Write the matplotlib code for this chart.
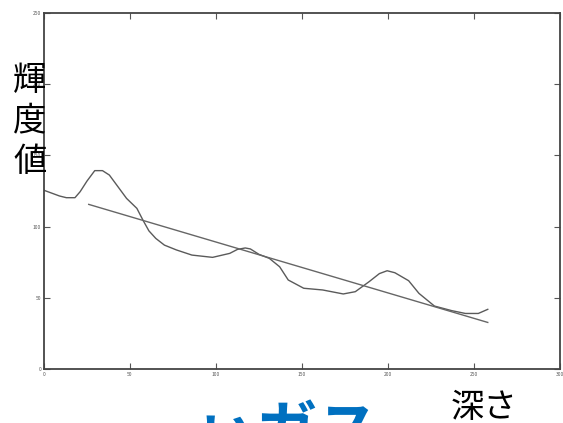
import matplotlib
matplotlib.use("Agg")
import matplotlib.pyplot as plt

plt.rcParams['font.family'] = ['Noto Sans CJK JP', 'DejaVu Sans']

# luminance profile (depth vs brightness)
depth = [0, 9, 13, 18, 21, 25, 29.5, 34, 38, 43, 48, 54, 57.5, 61, 65, 70, 77, 86, 98,
         108, 112.5, 117, 120, 125, 131, 137, 142, 151, 162, 174, 181, 189, 195, 199.5,
         204, 212, 218, 227, 237, 245, 252.5, 258]
lum = [125.5, 121.5, 120.3, 120.3, 124.5, 132, 139.3, 139.3, 136.2, 128, 119.8, 112.8,
       104.6, 97, 91.7, 87, 83.6, 80, 78.4, 81.2, 84, 85, 84.3, 80.5, 77.7, 71.8, 62.5,
       56.7, 55.5, 52.7, 54.3, 61.3, 67, 69, 67.6, 62, 53.1, 44.2, 41, 39, 39, 41.9]

# fitted trend line
fit_x = [26, 258]
fit_y = [115.6, 32.7]

xticks = [0, 50, 100, 150, 200, 250, 300]
yticks = [0, 50, 100, 150, 200, 250]

fig = plt.figure(figsize=(5.63, 4.23), dpi=100)
ax = fig.add_axes([44 / 563, 1 - 369 / 423, 516 / 563, 356 / 423])
ax.plot(depth, lum, color='#5a5a5a', lw=1.0)
ax.plot(fit_x, fit_y, color='#666666', lw=1.0)
ax.set_xlim(0, 300)
ax.set_ylim(0, 250)
ax.set_xticks(xticks)
ax.set_yticks(yticks)
ax.set_xticklabels([str(v) for v in xticks])
ax.set_yticklabels([str(v) for v in yticks])
ax.tick_params(direction='in', length=4, width=0.8, colors='#555555',
               labelsize=3.5, top=True, right=True, pad=2)
for s in ax.spines.values():
    s.set_color('#444444')
    s.set_linewidth(1.3)

# vertical axis label
fig.text(30 / 563, 1 - 121 / 423, "輝\n度\n値", fontsize=24, ha='center',
         va='center', color='black', linespacing=1.22, multialignment='center')
# horizontal axis label
fig.text(484 / 563, 1 - 407 / 423, "深さ", fontsize=24, ha='center', va='center',
         color='black')
# cut-off blue caption
fig.text(287 / 563, 1 - 403 / 423, "ぃガス", fontsize=44, ha='center', va='top',
         color='#0070C0', fontweight='bold')

fig.savefig("out.png", dpi=100)
